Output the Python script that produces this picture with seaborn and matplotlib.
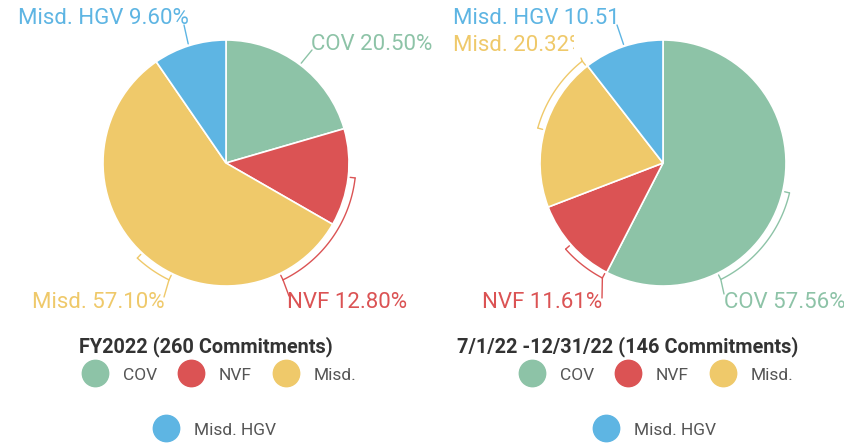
import numpy as np
import matplotlib
matplotlib.use("Agg")
import matplotlib.pyplot as plt
import seaborn as sns
from matplotlib.lines import Line2D
from matplotlib.transforms import Bbox, TransformedBbox

# ---------------- data ----------------
categories = ["COV", "NVF", "Misd.", "Misd. HGV"]
fy2022_values = [20.50, 12.80, 57.10, 9.60]
h2_2022_values = [57.56, 11.61, 20.32, 10.51]
titles = ["FY2022 (260 Commitments)", "7/1/22 -12/31/22 (146 Commitments)"]
colors = ["#8DC3A7", "#DB5354", "#EFC96A", "#5EB5E3"]

# ---------------- layout (pixel space) ----------------
W, H = 845, 443
R = 123
centers = [(226, 163), (663, 163)]
title_x = [206, 628]
legend_row1 = [(219, 375), (656, 375)]
legend_row2 = [(215, 430), (655, 430)]
# per label: kind, angles (clock degrees), leader end (px), text anchor (px), ha, clip-right
label_layout = [
    [
        ("line", (37.0,), (312, 50), (311, 44), "left", None),
        ("bracket", (96.6, 154.0), (289, 296), (287, 302), "left", None),
        ("bracket", (223.0, 206.0), (164, 297), (165, 302), "right", None),
        ("line", (342.4,), (184, 25), (189, 18), "right", None),
    ],
    [
        ("bracket", (103.3, 153.6), (724, 294), (724, 302), "left", None),
        ("bracket", (228.5, 207.8), (602, 298), (602, 302), "right", None),
        ("bracket", (285.6, 321.6), (581, 58), (453, 45), "left", 574),
        ("line", (341.6,), (617, 25), (453, 18), "left", 618),
    ],
]

sns.set_theme(style="white")
plt.rcParams["font.family"] = ["Roboto", "DejaVu Sans"]

fig = plt.figure(figsize=(W / 100, H / 100), dpi=100)
ax = fig.add_axes([0, 0, 1, 1])


def pt(cx, cy_data, r, a):
    t = np.radians(a)
    return cx + r * np.sin(t), cy_data + r * np.cos(t)


for i, values in enumerate([fy2022_values, h2_2022_values]):
    cx, cy = centers[i]
    cyd = H - cy
    ax.pie(values, colors=colors, startangle=90, counterclock=False,
           center=(cx, cyd), radius=R,
           wedgeprops=dict(edgecolor="white", linewidth=1.2))
    for j, (kind, angs, end, tpos, ha, clip) in enumerate(label_layout[i]):
        col = colors[j]
        if kind == "line":
            x0, y0 = pt(cx, cyd, R + 2, angs[0])
            ax.plot([x0, end[0]], [y0, H - end[1]], color=col, lw=1.0)
        else:
            a1, a2 = angs
            t = np.linspace(a1, a2, 60)
            xs, ys = pt(cx, cyd, R + 7, t)
            ax.plot(xs, ys, color=col, lw=1.0)
            for a in (a1, a2):
                xa, ya = pt(cx, cyd, R + 2, a)
                xb, yb = pt(cx, cyd, R + 7, a)
                ax.plot([xa, xb], [ya, yb], color=col, lw=1.0)
            xe, ye = pt(cx, cyd, R + 7, a2)
            ax.plot([xe, end[0]], [ye, H - end[1]], color=col, lw=1.0)
        txt = ax.text(tpos[0], H - tpos[1], f"{categories[j]} {values[j]:.2f}%",
                      ha=ha, va="center", fontsize=16, color=col)
        if clip is not None:
            txt.set_clip_box(TransformedBbox(Bbox([[0, 0], [clip, H]]), ax.transData))
            txt.set_clip_on(True)

    ax.text(title_x[i], H - 347, titles[i], ha="center", va="center",
            fontsize=14.3, fontweight="bold", color="#333333")

    handles = [Line2D([], [], marker="o", linestyle="", markersize=19,
                      markerfacecolor=c, markeredgecolor=c) for c in colors]
    fig.legend(handles[:3], categories[:3], ncol=3, loc="center",
               bbox_to_anchor=(legend_row1[i][0] / W, 1 - legend_row1[i][1] / H),
               frameon=False, fontsize=12.5, labelcolor="#555555",
               handletextpad=0.86, columnspacing=1.2, handlelength=1.5)
    fig.legend(handles[3:], categories[3:], ncol=1, loc="center",
               bbox_to_anchor=(legend_row2[i][0] / W, 1 - legend_row2[i][1] / H),
               frameon=False, fontsize=12.5, labelcolor="#555555",
               handletextpad=0.86, handlelength=1.5)

ax.set_xlim(0, W)
ax.set_ylim(0, H)
ax.set_aspect("equal")
ax.axis("off")

fig.savefig("out.png", dpi=100)
